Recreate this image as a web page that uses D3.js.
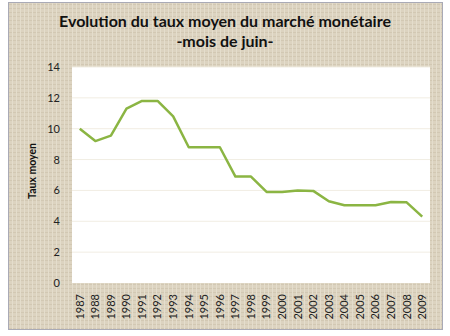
<!DOCTYPE html>
<html><head><meta charset="utf-8">
<script src="https://cdn.jsdelivr.net/npm/d3@7"></script>
<style>body{margin:0;background:#fff}svg{display:block}</style>
</head><body>
<script>
const years = ["1987","1988","1989","1990","1991","1992","1993","1994","1995","1996","1997","1998","1999","2000","2001","2002","2003","2004","2005","2006","2007","2008","2009"];
const rates = [10.0,9.2,9.55,11.3,11.8,11.8,10.8,8.8,8.8,8.8,6.9,6.9,5.9,5.9,6.0,5.97,5.3,5.04,5.04,5.04,5.25,5.23,4.3];
const yTicks = [0,2,4,6,8,10,12,14];
const titleLines = ["Evolution du taux moyen du marché monétaire","-mois de juin-"];
const yLabel = "Taux moyen";

const W=450,H=336;
const svg=d3.select("body").append("svg").attr("width",W).attr("height",H);
const defs=svg.append("defs");
const pat=defs.append("pattern").attr("id","linen").attr("patternUnits","userSpaceOnUse").attr("width",4).attr("height",4);
pat.append("rect").attr("width",4).attr("height",4).attr("fill","#dcd3c0");
pat.append("rect").attr("x",0).attr("y",0).attr("width",4).attr("height",1).attr("fill","#d2c8b3");
pat.append("rect").attr("x",0).attr("y",0).attr("width",1).attr("height",4).attr("fill","#e4ddcc");

svg.append("rect").attr("x",8.5).attr("y",2.5).attr("width",434).attr("height",327)
  .attr("fill","url(#linen)").attr("stroke","#a9aab6").attr("stroke-width",1);

const m={l:72,r:430,t:67,b:283};
const x=d3.scaleBand().domain(years).range([m.l,m.r]);
const y=d3.scaleLinear().domain([0,14]).range([m.b,m.t]);

svg.append("rect").attr("x",m.l).attr("y",m.t).attr("width",m.r-m.l).attr("height",m.b-m.t).attr("fill","#fff");

svg.append("g").selectAll("line").data(yTicks.slice(1)).join("line")
  .attr("x1",m.l).attr("x2",m.r).attr("y1",d=>y(d)).attr("y2",d=>y(d))
  .attr("stroke","#f1ede3").attr("stroke-width",1);

const font="Lato, 'Open Sans', sans-serif";
const yAxis=svg.append("g").attr("transform",`translate(${m.l},0)`)
  .call(d3.axisLeft(y).tickValues(yTicks).tickSize(0).tickPadding(12));
yAxis.select(".domain").remove();
yAxis.selectAll("text").attr("font-family",font).attr("font-size",11).attr("fill","#222");

const xAxis=svg.append("g").attr("transform",`translate(0,${m.b})`)
  .call(d3.axisBottom(x).tickSize(0));
xAxis.select(".domain").remove();
xAxis.selectAll("text").attr("font-family",font).attr("font-size",11).attr("fill","#222")
  .attr("transform","rotate(-90)").attr("text-anchor","end").attr("x",-11).attr("y",0).attr("dy","0.35em");

svg.append("path").datum(rates)
  .attr("d",d3.line().x((d,i)=>x(years[i])+x.bandwidth()/2).y(d=>y(d)))
  .attr("fill","none").attr("stroke","#8bb543").attr("stroke-width",2.5).attr("stroke-linejoin","round");

svg.append("text").attr("transform",`translate(36,171) rotate(-90)`)
  .attr("text-anchor","middle").attr("font-family",font).attr("font-weight","bold").attr("font-size",10.5).attr("fill","#111").text(yLabel);

svg.selectAll(".title").data(titleLines).join("text")
  .attr("x",225).attr("y",(d,i)=>27+i*20).attr("text-anchor","middle")
  .attr("font-family",font).attr("font-weight","bold").attr("font-size",16).attr("fill","#111").text(d=>d);
</script>
</body></html>
